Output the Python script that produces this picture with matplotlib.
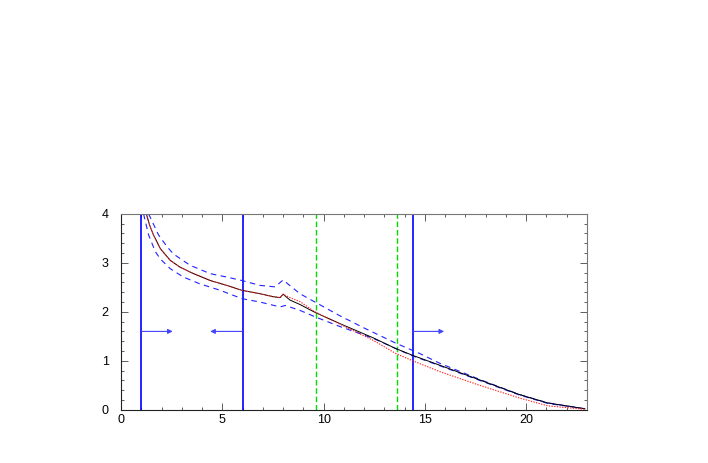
import matplotlib
matplotlib.use("Agg")
import matplotlib.pyplot as plt
from matplotlib.ticker import MultipleLocator

plt.rcParams['font.family'] = ['Liberation Sans', 'DejaVu Sans']

# central value (black solid)
x_mid = [1.25, 1.4, 1.6, 1.94, 2.43, 2.92, 3.58, 4.4, 5.22, 5.96, 6.86, 7.5, 7.85, 8.0,
         8.34, 8.83, 9.57, 10.8, 12.44, 13.56, 14.4, 15.73, 17.7, 19.67, 21.06, 22.9]
y_mid = [4.0, 3.78, 3.57, 3.29, 3.05, 2.91, 2.78, 2.64, 2.54, 2.44, 2.37, 2.31, 2.29, 2.36,
         2.24, 2.15, 1.99, 1.76, 1.47, 1.25, 1.11, 0.91, 0.61, 0.31, 0.14, 0.02]

# red dotted
x_red = [1.25, 1.4, 1.6, 1.94, 2.43, 2.92, 3.58, 4.4, 5.22, 5.96, 6.86, 7.5, 7.85, 8.0,
         8.34, 8.83, 9.57, 10.8, 12.44, 13.56, 14.4, 15.73, 17.7, 19.67, 21.06, 22.9]
y_red = [4.0, 3.78, 3.57, 3.29, 3.05, 2.91, 2.78, 2.64, 2.54, 2.44, 2.37, 2.31, 2.29, 2.36,
         2.29, 2.21, 2.0, 1.75, 1.42, 1.15, 1.0, 0.78, 0.5, 0.24, 0.08, 0.01]

# blue dashed band
x_up = [1.36, 1.85, 2.27, 2.59, 3.41, 4.4, 5.22, 5.96, 6.86, 7.6, 8.0, 8.83, 9.57,
        10.8, 12.0, 13.56, 14.74, 15.73, 17.7, 19.67, 21.06, 22.9]
y_up = [4.0, 3.57, 3.33, 3.18, 2.95, 2.78, 2.71, 2.64, 2.54, 2.51, 2.65, 2.37, 2.2,
        1.92, 1.67, 1.36, 1.15, 0.95, 0.62, 0.31, 0.14, 0.02]
x_lo = [1.11, 1.36, 1.69, 1.94, 2.43, 3.08, 3.9, 4.89, 5.96, 6.86, 7.85, 8.1, 8.83,
        9.57, 10.8, 12.44, 13.56, 14.4, 15.73, 17.7, 19.67, 21.06, 22.9]
y_lo = [4.0, 3.57, 3.23, 3.08, 2.88, 2.71, 2.57, 2.44, 2.27, 2.2, 2.1, 2.13, 2.03,
        1.9, 1.7, 1.46, 1.25, 1.1, 0.9, 0.6, 0.3, 0.13, 0.02]

# cut lines and arrows
blue_cuts = [1.0, 6.0, 14.4]
green_cuts = [9.6, 13.6]
arrow_y = 1.6
arrow_from = [1.0, 6.0, 14.4]
arrow_to = [2.55, 4.4, 15.95]

fig = plt.figure(figsize=(7.08, 4.63), dpi=100)
ax = fig.add_axes([0.171, 0.115, 0.658, 0.423])

for xc in blue_cuts:
    ax.plot([xc, xc], [0, 4], color='#0000ff', lw=1.2)
for xc in green_cuts:
    ax.plot([xc, xc], [0, 4], color='#00dd00', lw=1.0, dashes=(4, 2))
for x0, x1 in zip(arrow_from, arrow_to):
    ax.annotate('', xy=(x1, arrow_y), xytext=(x0, arrow_y),
                arrowprops=dict(arrowstyle='-|>', color='#4444ff', lw=0.8,
                                mutation_scale=7, shrinkA=0, shrinkB=0))

ax.plot(x_up, y_up, color='#2222ff', lw=0.8, dashes=(5, 4))
ax.plot(x_lo, y_lo, color='#2222ff', lw=0.8, dashes=(5, 4))
ax.plot(x_mid, y_mid, color='black', lw=0.7)
ax.plot(x_red, y_red, color='#ff2222', lw=0.8, dashes=(1.2, 1.2))

ax.set_xlim(0, 23)
ax.set_ylim(0, 4)
ax.xaxis.set_major_locator(MultipleLocator(5))
ax.xaxis.set_minor_locator(MultipleLocator(1))
ax.yaxis.set_major_locator(MultipleLocator(1))
ax.yaxis.set_minor_locator(MultipleLocator(0.2))
ax.tick_params(which='both', direction='in', top=True, right=True,
               labelsize=9, width=0.6, color='#444444')
ax.tick_params(which='major', length=5)
ax.tick_params(which='minor', length=2.5)
ax.tick_params(axis='y', pad=9)
ax.tick_params(axis='x', pad=3)
for side in ['top', 'right']:
    ax.spines[side].set_color('#777777')
for side in ['left', 'bottom']:
    ax.spines[side].set_color('#222222')

fig.savefig('out.png', dpi=100)
